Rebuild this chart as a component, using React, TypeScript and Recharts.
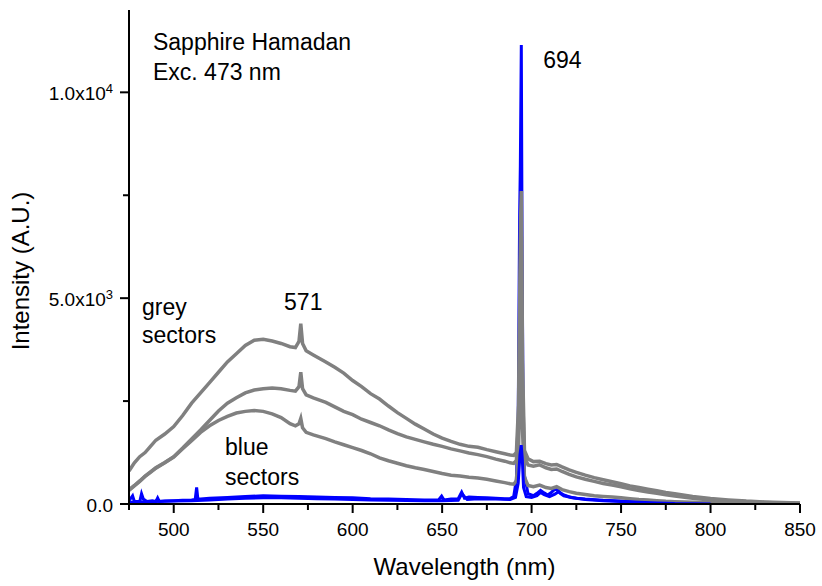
import { LineChart, Line, XAxis, YAxis, ReferenceDot } from 'recharts';

const FONT = '"Liberation Sans", Arial, Helvetica, sans-serif';

// grey sectors, three spectra on a shared wavelength grid (nm)
const greyNm = [
  475, 478, 481, 484, 487, 490, 495, 500, 505, 510,
  515, 520, 525, 530, 535, 540, 545, 550, 555, 560,
  565, 568, 570, 571, 572, 574, 578, 585, 590, 595,
  600, 605, 610, 615, 620, 625, 630, 635, 640, 645,
  650, 655, 660, 665, 670, 675, 680, 685, 688, 690,
  691.5, 692.7, 693.4, 693.9, 694.3, 694.9, 696, 698, 701, 704.5,
  708, 711, 714, 717, 721, 725, 730, 735, 740, 745,
  750, 755, 760, 765, 770, 775, 780, 790, 800, 810,
  820, 830, 840, 850,
];
const greyTop = [
  800, 1000, 1150, 1250, 1400, 1550, 1700, 1880, 2150, 2450,
  2700, 2950, 3200, 3450, 3650, 3850, 3980, 4000, 3960, 3900,
  3820, 3800, 3950, 4380, 3900, 3720, 3620, 3450, 3320, 3180,
  3000, 2850, 2680, 2550, 2380, 2220, 2080, 1940, 1820, 1700,
  1600, 1520, 1450, 1400, 1380, 1320, 1270, 1220, 1190, 1180,
  1250, 2400, 5200, 7000, 7600, 3500, 1300, 1100, 1030, 1040,
  980, 950, 960, 900, 830, 770, 700, 640, 590, 540,
  490, 440, 400, 360, 320, 280, 250, 180, 135, 100,
  70, 50, 35, 25,
];
const greyMid = [
  350, 450, 560, 680, 780, 880, 1010, 1150, 1360, 1580,
  1800, 2030, 2260, 2450, 2580, 2700, 2770, 2800, 2820, 2800,
  2760, 2740, 2850, 3200, 2800, 2650, 2580, 2470, 2360, 2250,
  2170, 2060, 1980, 1900, 1800, 1710, 1630, 1570, 1510, 1450,
  1400, 1340, 1290, 1240, 1200, 1150, 1090, 1040, 1000, 985,
  1060, 2000, 4500, 6000, 6500, 2800, 1150, 950, 920, 950,
  880, 840, 850, 790, 720, 660, 600, 550, 500, 460,
  420, 370, 330, 290, 260, 225, 195, 140, 100, 75,
  55, 38, 25, 18,
];
const greyLow = [
  330, 440, 550, 670, 770, 870, 1000, 1140, 1340, 1540,
  1740, 1900, 2030, 2130, 2210, 2250, 2270, 2250, 2190, 2100,
  1950, 1900, 1950, 2080, 1850, 1740, 1680, 1590, 1510, 1440,
  1370, 1300, 1220, 1120, 1050, 990, 930, 880, 840, 790,
  740, 700, 680, 650, 630, 600, 560, 520, 490, 480,
  560, 1300, 3000, 4000, 4500, 1800, 650, 450, 420, 460,
  400, 380, 420, 350, 300, 260, 230, 200, 185, 170,
  150, 130, 110, 95, 80, 65, 55, 40, 28, 20,
  14, 10, 6, 4,
];

// blue sectors
const blueNm = [
  475, 477, 478, 479, 481, 482, 483, 485, 488, 490,
  491, 492, 495, 500, 505, 510, 512, 512.8, 513.5, 515,
  520, 530, 540, 550, 560, 570, 580, 590, 600, 610,
  620, 630, 640, 648, 649.7, 651, 655, 659, 660.9, 662.5,
  665, 670, 675, 680, 685, 688, 690, 691.5, 692.5, 693.3,
  693.7, 694.25, 694.7, 695.3, 696, 698, 701, 703, 705, 707,
  709, 711, 713, 714.5, 716, 718, 721, 725, 730, 740,
  750, 760, 770, 780, 790, 800, 850,
];
const blueHigh = [
  80, 200, 60, 60, 60, 250, 120, 60, 80, 60,
  150, 60, 70, 80, 90, 100, 110, 400, 120, 120,
  140, 160, 180, 200, 190, 180, 170, 160, 150, 130,
  120, 110, 100, 100, 190, 100, 120, 130, 290, 140,
  170, 160, 150, 140, 130, 130, 180, 600, 2000, 6960,
  8200, 11150, 6000, 2000, 700, 250, 200, 260, 330, 270,
  220, 280, 360, 340, 260, 200, 170, 140, 120, 90,
  70, 50, 30, 15, 5, 0, 0,
];
const blueNm2 = [
  475, 480, 490, 500, 510, 520, 530, 540, 550, 560,
  570, 580, 590, 600, 610, 620, 630, 640, 650, 659,
  661, 664, 670, 680, 688, 691, 692.5, 693.5, 694.2, 694.8,
  695.5, 697, 700, 703, 705, 707, 710, 713, 715, 718,
  722, 730, 740, 750, 760, 770, 780, 790, 800,
];
const blueLow = [
  40, 50, 60, 70, 80, 100, 120, 140, 150, 150,
  140, 130, 120, 110, 100, 90, 85, 80, 80, 90,
  250, 110, 130, 120, 110, 160, 500, 1200, 1430, 1100,
  400, 180, 160, 200, 280, 230, 180, 240, 300, 220,
  160, 110, 80, 60, 40, 25, 10, 5, 0,
];

const xTicks = [475, 500, 525, 550, 575, 600, 625, 650, 675, 700, 725, 750, 775, 800, 825, 850];
const yTicks = [0, 2500, 5000, 7500, 10000];
const yTickText: Record<number, [string, string]> = {
  0: ['0.0', ''],
  5000: ['5.0x10', '3'],
  10000: ['1.0x10', '4'],
};

const notes = [
  { x: 488.4, y: 11030, lines: ['Sapphire Hamadan', 'Exc. 473 nm'], anchor: 'start', gap: 30 },
  { x: 482.3, y: 4590, lines: ['grey', 'sectors'], anchor: 'start', gap: 28 },
  { x: 528.7, y: 1190, lines: ['blue', 'sectors'], anchor: 'start', gap: 30 },
  { x: 572.4, y: 4710, lines: ['571'], anchor: 'middle', gap: 0 },
  { x: 706.5, y: 10590, lines: ['694'], anchor: 'start', gap: 0 },
];

const pts = (xs: number[], ys: number[]) => xs.map((x, i) => ({ x, y: ys[i] }));

const XTick = (p: any) => {
  const { x, y, payload } = p;
  const major = payload.value % 50 === 0;
  return (
    <g>
      <line x1={x} x2={x} y1={y} y2={y + (major ? 9 : 6)} stroke="#000" strokeWidth={2} />
      {major && (
        <text x={x} y={y + 32} textAnchor="middle" fontSize={19} fontFamily={FONT} fill="#000">
          {payload.value}
        </text>
      )}
    </g>
  );
};

const YTick = (p: any) => {
  const { x, y, payload } = p;
  const lab = yTickText[payload.value];
  return (
    <g>
      <line x1={x - (lab ? 9 : 6)} x2={x} y1={y} y2={y} stroke="#000" strokeWidth={2} />
      {lab && (
        <text x={x - 16} y={y} dy="0.4em" textAnchor="end" fontSize={19} fontFamily={FONT} fill="#000">
          {lab[0]}
          {lab[1] && <tspan dy={-7} fontSize={13}>{lab[1]}</tspan>}
        </text>
      )}
    </g>
  );
};

export default function App() {
  return (
    <div style={{ position: 'absolute', left: 0, top: 0, width: 822, height: 586, background: '#fff' }}>
      <LineChart width={822} height={586} margin={{ top: 10, right: 22, bottom: 0, left: 0 }}>
        <XAxis
          type="number"
          dataKey="x"
          domain={[475, 850]}
          ticks={xTicks}
          interval={0}
          allowDataOverflow
          height={82}
          tickSize={0}
          tickMargin={0}
          tickLine={false}
          tick={<XTick />}
          axisLine={{ stroke: '#000', strokeWidth: 2 }}
          label={{
            content: (lp: any) => (
              <text
                x={lp.viewBox.x + lp.viewBox.width / 2}
                y={lp.viewBox.y + 71}
                textAnchor="middle"
                fontSize={24}
                fontFamily={FONT}
                fill="#000"
              >
                Wavelength (nm)
              </text>
            ),
          }}
        />
        <YAxis
          type="number"
          dataKey="y"
          domain={[0, 12000]}
          ticks={yTicks}
          interval={0}
          allowDataOverflow
          width={129}
          tickSize={0}
          tickMargin={0}
          tickLine={false}
          tick={<YTick />}
          axisLine={{ stroke: '#000', strokeWidth: 2 }}
          label={{
            content: (lp: any) => (
              <text
                transform={`translate(${lp.viewBox.x + 29},${lp.viewBox.y + lp.viewBox.height / 2 + 14}) rotate(-90)`}
                textAnchor="middle"
                fontSize={24}
                fontFamily={FONT}
                fill="#000"
              >
                Intensity (A.U.)
              </text>
            ),
          }}
        />
        <Line data={pts(blueNm, blueHigh)} dataKey="y" type="linear" stroke="#0000ff" strokeWidth={3} dot={false} activeDot={false} isAnimationActive={false} />
        <Line data={pts(greyNm, greyTop)} dataKey="y" type="linear" stroke="#808080" strokeWidth={3.5} dot={false} activeDot={false} isAnimationActive={false} />
        <Line data={pts(greyNm, greyMid)} dataKey="y" type="linear" stroke="#808080" strokeWidth={3.5} dot={false} activeDot={false} isAnimationActive={false} />
        <Line data={pts(greyNm, greyLow)} dataKey="y" type="linear" stroke="#808080" strokeWidth={3.5} dot={false} activeDot={false} isAnimationActive={false} />
        <Line data={pts(blueNm2, blueLow)} dataKey="y" type="linear" stroke="#0000ff" strokeWidth={3} dot={false} activeDot={false} isAnimationActive={false} />
        {notes.map((n, i) => (
          <ReferenceDot
            key={i}
            x={n.x}
            y={n.y}
            r={0}
            shape={(p: any) => (
              <text x={p.cx} y={p.cy} textAnchor={n.anchor as any} fontSize={23} fontFamily={FONT} fill="#000">
                {n.lines.map((l, j) => (
                  <tspan key={j} x={p.cx} dy={j === 0 ? 0 : n.gap}>
                    {l}
                  </tspan>
                ))}
              </text>
            )}
          />
        ))}
      </LineChart>
    </div>
  );
}
